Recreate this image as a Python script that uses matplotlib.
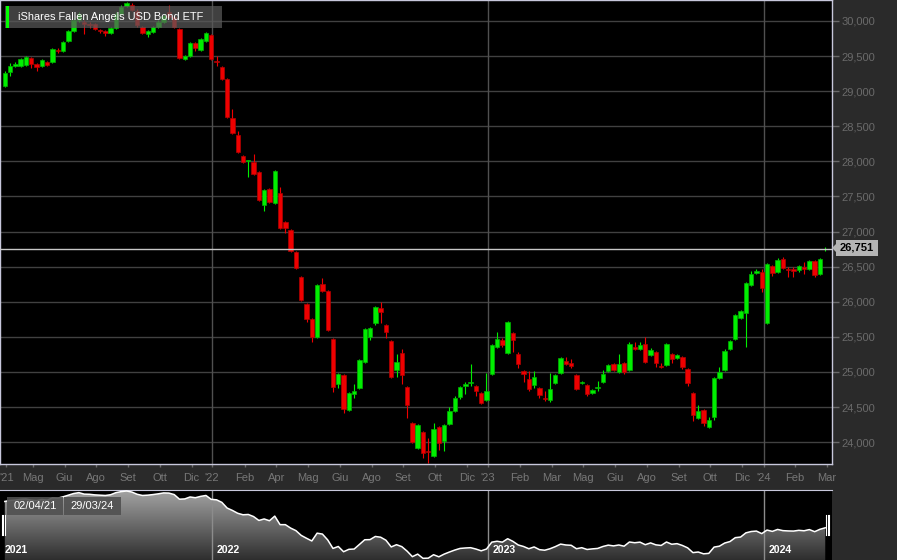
import numpy as np
import pandas as pd
import matplotlib
matplotlib.use('Agg')
import matplotlib.pyplot as plt
import matplotlib.dates as mdates
from matplotlib.patches import Rectangle, Polygon
from matplotlib.colors import LinearSegmentedColormap
from matplotlib.ticker import FuncFormatter

plt.rcParams['font.family'] = ['Liberation Sans', 'DejaVu Sans']

W, H = 897, 560

# ---------------------------------------------------------------- data
title = 'iShares Fallen Angels USD Bond ETF'
range_start = '02/04/21'
range_end = '29/03/24'
last_price = 26751

weeks = pd.date_range('2021-04-02', periods=156, freq='7D')

opens = [
    29075, 29274, 29359, 29359, 29373, 29473, 29387, 29359, 29416, 29416,
    29587, 29573, 29715, 29858, 30014, 29986, 29957, 29957, 29872, 29858,
    29829, 29900, 30100, 30214, 30228, 30143, 29915, 29815, 29843, 29915,
    29986, 30128, 30057, 29886, 29459, 29501, 29686, 29587, 29715, 29801,
    29430, 29344, 29174, 28618, 28376, 28077, 28006, 27991, 27849, 27379,
    27607, 27408, 27550, 27137, 27023, 26709, 26353, 25969, 25755, 25498,
    26254, 26154, 25470, 24829, 24958, 24459, 24687, 24772, 25142, 25498,
    25698, 25912, 25670, 25442, 25029, 25270, 24786, 24273, 23918, 24146,
    23875, 23804, 24217, 24017, 24259, 24445, 24644, 24800, 24843, 24800,
    24701, 24601, 24972, 25356, 25456, 25270, 25556, 25256, 25015, 24900,
    24815, 24772, 24630, 24601, 24843, 24986, 25157, 25128, 24958, 24843,
    24815, 24701, 24772, 24857, 25015, 25114, 25000, 25128, 25029, 25356,
    25328, 25399, 25242, 25285, 25086, 25100, 25256, 25199, 25213, 25043,
    24701, 24345, 24459, 24217, 24359, 24915, 25029, 25328, 25470, 25769,
    25840, 26240, 26410, 26425, 25698, 26510, 26425, 26609, 26467, 26467,
    26453, 26496, 26467, 26581, 26396, 26745]

closes = [
    29259, 29359, 29387, 29459, 29487, 29387, 29344, 29444, 29373, 29601,
    29573, 29701, 29858, 30014, 30100, 29957, 29943, 29886, 29858, 29829,
    29900, 30100, 30199, 30256, 30157, 29943, 29829, 29858, 29915, 29986,
    30072, 30057, 29915, 29473, 29501, 29686, 29615, 29744, 29829, 29459,
    29416, 29174, 28632, 28404, 28134, 27991, 28020, 27820, 27450, 27593,
    27422, 27863, 27051, 27051, 26724, 26481, 26026, 25755, 25498, 26240,
    26154, 25598, 24786, 24972, 24473, 24701, 24729, 25171, 25612, 25626,
    25926, 25855, 25570, 24929, 25142, 24958, 24530, 24003, 24245, 23846,
    23861, 24188, 23989, 24245, 24445, 24630, 24786, 24829, 24857, 24729,
    24559, 24729, 25385, 25470, 25385, 25712, 25456, 25114, 24972, 24758,
    24929, 24672, 24615, 24758, 24958, 25199, 25114, 25086, 24758, 24857,
    24687, 24744, 24786, 24972, 25100, 25029, 25114, 25000, 25399, 25328,
    25385, 25142, 25313, 25128, 25071, 25399, 25185, 25242, 25071, 24843,
    24388, 24445, 24273, 24316, 24915, 25000, 25299, 25442, 25812, 25869,
    26268, 26396, 26439, 26197, 26538, 26410, 26595, 26481, 26453, 26439,
    26510, 26467, 26581, 26382, 26609, 26751]

highs = [
    29288, 29401, 29416, 29473, 29501, 29487, 29401, 29459, 29430, 29615,
    29615, 29715, 29872, 30043, 30128, 30014, 29986, 29972, 29886, 29872,
    29915, 30128, 30228, 30271, 30256, 30171, 29929, 29872, 29929, 30014,
    30100, 30228, 30086, 29900, 29516, 29701, 29701, 29758, 29843, 29815,
    29501, 29359, 29188, 28747, 28432, 28091, 28020, 28105, 27863, 27607,
    27621, 27877, 27635, 27151, 27037, 26724, 26368, 25983, 25769, 26254,
    26340, 26168, 25484, 24986, 24972, 24715, 24829, 25185, 25626, 25640,
    25940, 25997, 25684, 25456, 25256, 25328, 24800, 24288, 24259, 24160,
    24060, 24273, 24231, 24259, 24502, 24658, 24800, 24857, 25114, 24815,
    24715, 24986, 25399, 25570, 25484, 25727, 25570, 25285, 25029, 25015,
    25015, 24786, 24729, 24986, 24972, 25213, 25213, 25185, 24972, 24872,
    24829, 24758, 24872, 25029, 25114, 25128, 25256, 25142, 25427, 25427,
    25427, 25498, 25342, 25299, 25128, 25413, 25270, 25256, 25228, 25057,
    24715, 24530, 24473, 24359, 24929, 25071, 25328, 25456, 25826, 25883,
    26282, 26439, 26467, 26467, 26552, 26524, 26624, 26638, 26496, 26496,
    26524, 26567, 26595, 26595, 26624, 26780]

lows = [
    29060, 29217, 29344, 29344, 29359, 29330, 29288, 29344, 29359, 29401,
    29544, 29558, 29701, 29843, 29986, 29815, 29900, 29872, 29829, 29786,
    29815, 29886, 30086, 30199, 30143, 29915, 29815, 29772, 29829, 29900,
    29972, 30043, 29900, 29459, 29444, 29487, 29573, 29573, 29701, 29444,
    29359, 29160, 28618, 28390, 28120, 27977, 27777, 27806, 27436, 27294,
    27408, 27393, 27037, 26980, 26709, 26467, 26012, 25713, 25428, 25484,
    26140, 25584, 24715, 24772, 24416, 24445, 24630, 24758, 25128, 25456,
    25670, 25698, 25484, 24915, 24929, 24829, 24345, 23989, 23904, 23775,
    23704, 23790, 23889, 23875, 24245, 24431, 24615, 24687, 24800, 24658,
    24544, 24587, 24958, 25342, 25356, 25256, 25285, 25057, 24857, 24729,
    24772, 24630, 24587, 24573, 24829, 24972, 25100, 25057, 24744, 24829,
    24658, 24687, 24729, 24843, 25000, 25015, 24986, 24972, 25015, 25313,
    25313, 25128, 25228, 25071, 25057, 25086, 25128, 25185, 25043, 24800,
    24302, 24331, 24231, 24203, 24316, 24900, 25015, 25313, 25456, 25755,
    25356, 26225, 26396, 26140, 25684, 26368, 26410, 26467, 26353, 26353,
    26425, 26396, 26453, 26353, 26382, 26720]

y_ticks = [24000, 24500, 25000, 25500, 26000, 26500, 27000,
           27500, 28000, 28500, 29000, 29500, 30000]

x_tick_dates = ['2021-04-04', '2021-05-09', '2021-06-20', '2021-08-01', '2021-09-12',
                '2021-10-24', '2021-12-05', '2022-01-01', '2022-02-13', '2022-03-27',
                '2022-05-08', '2022-06-19', '2022-07-31', '2022-09-11', '2022-10-23',
                '2022-12-04', '2023-01-01', '2023-02-12', '2023-03-26', '2023-05-07',
                '2023-06-18', '2023-07-30', '2023-09-10', '2023-10-22', '2023-12-03',
                '2024-01-01', '2024-02-11', '2024-03-24']
x_tick_labels = ["'21", 'Mag', 'Giu', 'Ago', 'Set', 'Ott', 'Dic', "'22", 'Feb', 'Apr',
                 'Mag', 'Giu', 'Ago', 'Set', 'Ott', 'Dic', "'23", 'Feb', 'Mar', 'Mag',
                 'Giu', 'Ago', 'Set', 'Ott', 'Dic', "'24", 'Feb', 'Mar']

year_starts = ['2022-01-01', '2023-01-01', '2024-01-01']
year_names = ['2021', '2022', '2023', '2024']

# ---------------------------------------------------------------- layout
BG = '#2a2a2a'
GRID = '#414141'
BORDER = '#c8c8dc'
UP, DOWN = '#00ee00', '#ee0000'
UP_EDGE, DOWN_EDGE = '#00b000', '#b00000'

def fx(px):
    return px / W

def fy(py):
    return 1 - py / H

px_per_day = 276 / 365.0
x_ref = mdates.date2num(pd.Timestamp('2022-01-01'))
xlim = (x_ref - 212 / px_per_day, x_ref + 620 / px_per_day)

x = mdates.date2num(weeks)
o = np.array(opens, float)
c = np.array(closes, float)
hi = np.array(highs, float)
lo = np.array(lows, float)
up = c >= o

fig = plt.figure(figsize=(W / 100, H / 100), dpi=100, facecolor=BG)

# ---------------------------------------------------------------- main chart
ax = fig.add_axes([0, fy(464), fx(832), 464 / H], facecolor='black')
ax.set_xlim(*xlim)
ax.set_ylim(23689, 30299)

for yv in y_ticks:
    ax.axhline(yv, color=GRID, lw=1, zorder=0)
for d in year_starts:
    ax.axvline(mdates.date2num(pd.Timestamp(d)), color='#505050', lw=1, zorder=0)

ax.vlines(x[up], lo[up], hi[up], color=UP, lw=0.8, zorder=2)
ax.vlines(x[~up], lo[~up], hi[~up], color=DOWN, lw=0.8, zorder=2)
body = np.maximum(np.abs(c - o), 10)
bottom = np.minimum(o, c)
ax.bar(x, body, bottom=bottom, width=5.8,
       color=np.where(up, UP, DOWN), edgecolor=np.where(up, UP_EDGE, DOWN_EDGE),
       linewidth=0.5, zorder=3)

ax.axhline(last_price, color='#c8c8c8', lw=1, zorder=4)

for s in ax.spines.values():
    s.set_color(BORDER)
    s.set_linewidth(1)

ax.yaxis.tick_right()
ax.set_yticks(y_ticks)
ax.yaxis.set_major_formatter(FuncFormatter(lambda v, p: f'{v:,.0f}'))
ax.tick_params(axis='y', colors='#6a6a6a', labelsize=8, length=5, width=1, pad=2)

ax.set_xticks([mdates.date2num(pd.Timestamp(d)) for d in x_tick_dates])
ax.set_xticklabels(x_tick_labels)
ax.tick_params(axis='x', colors='#6a6a6a', labelsize=8, length=2.5, width=1, pad=4)
for t in ax.get_xticklabels():
    t.set_color('#777777')

# title box
fig.add_artist(Rectangle((fx(5), fy(28)), fx(217), 22 / H, transform=fig.transFigure,
                         facecolor='#5a5a5a', alpha=0.72, edgecolor='none', zorder=10))
fig.add_artist(Rectangle((fx(6), fy(28)), fx(3), 22 / H, transform=fig.transFigure,
                         facecolor='#00ff00', edgecolor='none', zorder=11))
fig.text(fx(18), fy(17), title, color='white', fontsize=7.95, va='center', ha='left', zorder=12)

# last price tag
tag = Polygon([(fx(832), fy(248)), (fx(836), fy(244)), (fx(836), fy(240)),
               (fx(878), fy(240)), (fx(878), fy(256)), (fx(836), fy(256)),
               (fx(836), fy(252))], closed=True, transform=fig.transFigure,
              facecolor='#b4b4b4', edgecolor='none', zorder=10)
fig.add_artist(tag)
fig.text(fx(857), fy(248), f'{last_price:,}', color='black', fontsize=8,
         fontweight='bold', ha='center', va='center', zorder=11)

# ---------------------------------------------------------------- navigator
nav = fig.add_axes([0, 0, fx(832), 70 / H], facecolor='black')
nav.set_xlim(*xlim)
ylo, yhi = 23685, 30350
nav.set_ylim(ylo, yhi)
nav.set_xticks([])
nav.set_yticks([])
for k, s in nav.spines.items():
    s.set_visible(k == 'top')
    s.set_color(BORDER)

grad = np.linspace(0, 1, 256).reshape(-1, 1)
cmap = LinearSegmentedColormap.from_list('nav', ['#2e2e2e', '#a4a4a4'])
im = nav.imshow(grad, extent=[xlim[0], xlim[1], ylo, yhi], origin='lower',
                aspect='auto', cmap=cmap, zorder=1)
verts = np.column_stack([np.r_[x[0], x, x[-1]], np.r_[ylo, c, ylo]])
clip = Polygon(verts, closed=True, facecolor='none', edgecolor='none',
               transform=nav.transData)
nav.add_patch(clip)
im.set_clip_path(clip)
nav.plot(x, c, color='white', lw=1.1, zorder=3)

for d in year_starts:
    nav.axvline(mdates.date2num(pd.Timestamp(d)), color='#8c8c8c', lw=1, zorder=2)

year_x = [x[0]] + [mdates.date2num(pd.Timestamp(d)) + 6 for d in year_starts]
for xv, name in zip(year_x, year_names):
    nav.text(xv, 0.14, name, transform=nav.get_xaxis_transform(), color='white',
             fontsize=7.6, fontweight='bold', ha='left', va='center', zorder=5)

# range handles
for hx in (x[0] - 2, x[-1] + 3):
    for dx in (-1.8, 0, 1.8):
        nav.plot([hx + dx, hx + dx], [0.36, 0.64], transform=nav.get_xaxis_transform(),
                 color='white', lw=0.8, zorder=6)

# range date boxes
for x0, x1, txt in ((7, 63, range_start), (64, 121, range_end)):
    fig.add_artist(Rectangle((fx(x0), fy(515)), fx(x1 - x0), 18 / H,
                             transform=fig.transFigure, facecolor='#505050',
                             alpha=0.9, edgecolor='none', zorder=10))
    fig.text(fx((x0 + x1) / 2), fy(506), txt, color='white', fontsize=8,
             ha='center', va='center', zorder=11)

plt.savefig('out.png', dpi=100, facecolor=BG)
